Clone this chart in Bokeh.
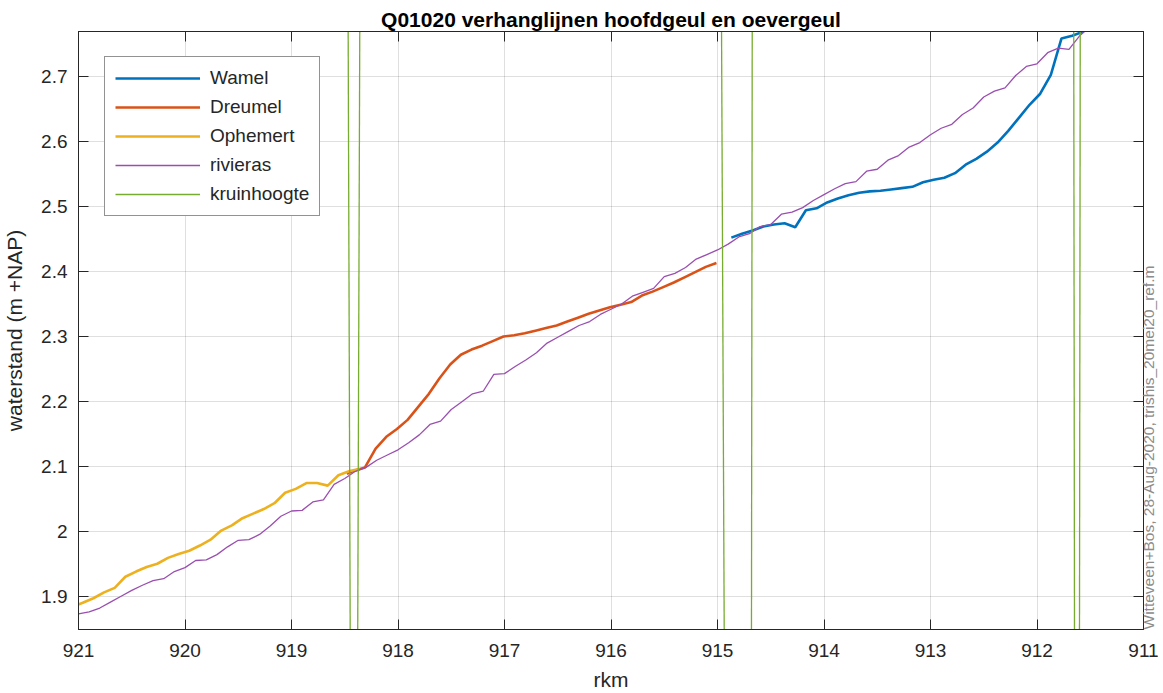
import numpy as np
from bokeh.plotting import figure
from bokeh.models import Range1d, FixedTicker, LinearAxis, CustomJSTickFormatter
from bokeh.embed import file_html
from bokeh.resources import INLINE

FONT = "Liberation Sans"

# ---------------- data ----------------
riv_km = [921.0, 920.9, 920.8, 920.7, 920.6, 920.5, 920.4, 920.3, 920.2, 920.1,
          920.0, 919.9, 919.8, 919.7, 919.6, 919.5, 919.4, 919.3, 919.2, 919.1,
          919.0, 918.9, 918.8, 918.7, 918.6, 918.5, 918.4, 918.3, 918.2, 918.1,
          918.0, 917.9, 917.8, 917.7, 917.6, 917.5, 917.4, 917.3, 917.2, 917.1,
          917.0, 916.9, 916.8, 916.7, 916.6, 916.5, 916.4, 916.3, 916.2, 916.1,
          916.0, 915.9, 915.8, 915.7, 915.6, 915.5, 915.4, 915.3, 915.2, 915.1,
          915.0, 914.9, 914.8, 914.7, 914.6, 914.5, 914.4, 914.3, 914.2, 914.1,
          914.0, 913.9, 913.8, 913.7, 913.6, 913.5, 913.4, 913.3, 913.2, 913.1,
          913.0, 912.9, 912.8, 912.7, 912.6, 912.5, 912.4, 912.3, 912.2, 912.1,
          912.0, 911.9, 911.8, 911.7, 911.6, 911.5]
riv_ws = [1.874, 1.877, 1.883, 1.892, 1.901, 1.910, 1.918, 1.925, 1.928, 1.939,
          1.945, 1.956, 1.957, 1.965, 1.977, 1.987, 1.988, 1.996, 2.009, 2.024,
          2.032, 2.033, 2.046, 2.049, 2.073, 2.082, 2.093, 2.099, 2.110, 2.118,
          2.126, 2.137, 2.149, 2.165, 2.170, 2.188, 2.200, 2.212, 2.216, 2.242,
          2.243, 2.254, 2.264, 2.275, 2.290, 2.299, 2.308, 2.317, 2.323, 2.334,
          2.342, 2.350, 2.362, 2.368, 2.374, 2.392, 2.397, 2.406, 2.419, 2.426,
          2.433, 2.442, 2.453, 2.458, 2.469, 2.472, 2.488, 2.491, 2.498, 2.509,
          2.518, 2.527, 2.535, 2.538, 2.554, 2.557, 2.571, 2.578, 2.591, 2.598,
          2.610, 2.620, 2.626, 2.641, 2.651, 2.668, 2.677, 2.682, 2.701, 2.715,
          2.719, 2.736, 2.743, 2.741, 2.762, 2.776]

oph_km = [921.06, 920.96, 920.86, 920.76, 920.66, 920.56, 920.46, 920.36, 920.26, 920.16,
          920.06, 919.96, 919.86, 919.76, 919.66, 919.56, 919.46, 919.36, 919.26, 919.16,
          919.06, 918.96, 918.86, 918.76, 918.66, 918.56, 918.46, 918.36]
oph_ws = [1.885, 1.891, 1.898, 1.907, 1.914, 1.931, 1.939, 1.946, 1.951, 1.960,
          1.966, 1.971, 1.979, 1.988, 2.002, 2.010, 2.021, 2.028, 2.035, 2.044,
          2.060, 2.066, 2.075, 2.075, 2.071, 2.087, 2.093, 2.097]

dre_km = [918.48, 918.41, 918.31, 918.21, 918.11, 918.01, 917.91, 917.81, 917.71, 917.61,
          917.51, 917.41, 917.31, 917.21, 917.11, 917.01, 916.91, 916.81, 916.71, 916.61,
          916.51, 916.41, 916.31, 916.21, 916.11, 916.01, 915.91, 915.81, 915.71, 915.61,
          915.51, 915.41, 915.31, 915.21, 915.11, 915.01]
dre_ws = [2.089, 2.094, 2.099, 2.128, 2.146, 2.158, 2.172, 2.192, 2.212, 2.236,
          2.257, 2.272, 2.280, 2.286, 2.293, 2.300, 2.302, 2.305, 2.309, 2.313,
          2.317, 2.323, 2.329, 2.335, 2.340, 2.345, 2.349, 2.353, 2.363, 2.369,
          2.376, 2.383, 2.391, 2.399, 2.407, 2.413]

wam_km = [914.87, 914.77, 914.67, 914.57, 914.47, 914.37, 914.27, 914.17, 914.07, 913.97,
          913.87, 913.77, 913.67, 913.57, 913.47, 913.37, 913.27, 913.17, 913.07, 912.97,
          912.87, 912.77, 912.67, 912.57, 912.47, 912.37, 912.27, 912.17, 912.07, 911.97,
          911.87, 911.77, 911.67, 911.57]
wam_ws = [2.452, 2.458, 2.463, 2.469, 2.472, 2.474, 2.468, 2.494, 2.497, 2.506,
          2.512, 2.517, 2.521, 2.523, 2.524, 2.526, 2.528, 2.530, 2.537, 2.541,
          2.544, 2.551, 2.564, 2.573, 2.584, 2.598, 2.616, 2.636, 2.656, 2.673,
          2.702, 2.758, 2.762, 2.768]

kruin_km_top = [918.468, 918.359, 914.962, 914.674, 911.655, 911.594]
kruin_km_bot = [918.449, 918.378, 914.937, 914.681, 911.648, 911.601]
kruin_ws_top = [2.77, 2.77, 2.77, 2.77, 2.77, 2.77]
kruin_ws_bot = [1.85, 1.85, 1.85, 1.85, 1.85, 1.85]

x_ticks = [911, 912, 913, 914, 915, 916, 917, 918, 919, 920, 921]
y_ticks = [1.9, 2.0, 2.1, 2.2, 2.3, 2.4, 2.5, 2.6, 2.7]

title_text = "Q01020 verhanglijnen hoofdgeul en oevergeul"
x_label = "rkm"
y_label = "waterstand (m +NAP)"
stamp_text = "Witteveen+Bos, 28-Aug-2020, trishis_20mei20_ref.m"

# ---------------- figure ----------------
AX = "#262626"
p = figure(frame_width=1065, frame_height=598, output_backend="svg", toolbar_location=None,
           x_range=Range1d(921, 911), y_range=Range1d(1.85, 2.7686),
           min_border_left=76, min_border_right=12, min_border_top=31, min_border_bottom=54,
           background_fill_color="white", border_fill_color="white")

p.title.text = title_text
p.title.align = "center"
p.title.text_font = FONT
p.title.text_font_size = "21px"
p.title.text_font_style = "bold"
p.title.text_color = "#000000"
p.title.standoff = 2

p.outline_line_color = AX
p.outline_line_width = 1
p.outline_line_alpha = 1

fmt_y = CustomJSTickFormatter(code="return (Math.round(tick*10)/10).toString();")
fmt_x = CustomJSTickFormatter(code="return Math.round(tick).toString();")
fmt_blank = CustomJSTickFormatter(code="return '';")

for ax in p.xaxis:
    ax.ticker = FixedTicker(ticks=x_ticks)
    ax.formatter = fmt_x
    ax.axis_label = x_label
    ax.major_label_standoff = 14
    ax.axis_label_standoff = 8
for ax in p.yaxis:
    ax.ticker = FixedTicker(ticks=y_ticks)
    ax.formatter = fmt_y
    ax.axis_label = y_label
    ax.major_label_standoff = 11
    ax.axis_label_standoff = 12

for ax in list(p.xaxis) + list(p.yaxis):
    ax.major_tick_in = 10
    ax.major_tick_out = 0
    ax.minor_tick_line_color = None
    ax.axis_line_color = AX
    ax.major_tick_line_color = AX
    ax.major_label_text_font = FONT
    ax.major_label_text_font_size = "19px"
    ax.major_label_text_color = AX
    ax.axis_label_text_font = FONT
    ax.axis_label_text_font_size = "21px"
    ax.axis_label_text_font_style = "normal"
    ax.axis_label_text_color = AX

top_ax = LinearAxis(ticker=FixedTicker(ticks=x_ticks), formatter=fmt_blank,
                    major_label_text_font_size="1px",
                    major_tick_in=10, major_tick_out=0, minor_tick_line_color=None,
                    axis_line_color=AX, major_tick_line_color=AX, major_label_standoff=0)
p.add_layout(top_ax, "above")

right_ax = LinearAxis(ticker=FixedTicker(ticks=y_ticks), formatter=fmt_blank,
                      major_label_text_font_size="1px",
                      major_tick_in=10, major_tick_out=0, minor_tick_line_color=None,
                      axis_line_color=AX, major_tick_line_color=AX, major_label_standoff=0,
                      axis_label=stamp_text, axis_label_standoff=5,
                      axis_label_orientation=np.pi / 2, axis_label_align="start",
                      axis_label_text_font=FONT, axis_label_text_font_size="15.5px",
                      axis_label_text_font_style="normal", axis_label_text_color="#8c8c8c")
p.add_layout(right_ax, "right")

p.xgrid.ticker = FixedTicker(ticks=x_ticks)
p.ygrid.ticker = FixedTicker(ticks=y_ticks)
p.grid.grid_line_color = AX
p.grid.grid_line_alpha = 0.15
p.grid.grid_line_width = 1

# ---------------- series ----------------
p.line(wam_km, wam_ws, color="#0072BD", line_width=2.6, legend_label="Wamel")
p.line(dre_km, dre_ws, color="#D95319", line_width=2.6, legend_label="Dreumel")
p.line(oph_km, oph_ws, color="#EDB120", line_width=2.6, legend_label="Ophemert")
p.line(riv_km, riv_ws, color="#9A4FB0", line_width=1.3, legend_label="rivieras")
p.segment(x0=kruin_km_top, y0=kruin_ws_top, x1=kruin_km_bot, y1=kruin_ws_bot,
          color="#77AC30", line_width=1.3, legend_label="kruinhoogte")

lg = p.legend[0]
lg.location = (26, 413)
lg.margin = 0
lg.padding = 10
lg.spacing = 7
lg.label_height = 20
lg.glyph_height = 20
lg.glyph_width = 85
lg.label_standoff = 10
lg.label_text_font = FONT
lg.label_text_font_size = "19px"
lg.label_text_color = AX
lg.border_line_color = AX
lg.border_line_width = 1
lg.background_fill_color = "white"
lg.background_fill_alpha = 1

open("out.html", "w").write(file_html(p, INLINE))
